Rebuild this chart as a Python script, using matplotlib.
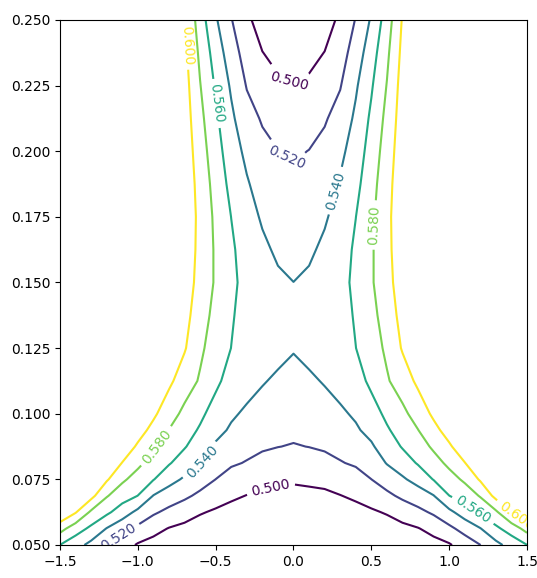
import numpy as np
import matplotlib
matplotlib.use("Agg")
import matplotlib.pyplot as plt

# contour levels
levels = [0.50, 0.52, 0.54, 0.56, 0.58, 0.60]

# right half of the (symmetric) grid, x >= 0
x_half = [0.0, 0.1, 0.2, 0.3, 0.4, 0.5, 0.6, 0.7, 0.8, 0.9, 1.0, 1.1, 1.2, 1.3, 1.4, 1.5]
y_rows = [0.05, 0.05625, 0.0625, 0.06875, 0.075, 0.08125, 0.0875, 0.09375, 0.1,
          0.1125, 0.125, 0.1375, 0.15, 0.1625, 0.175, 0.1875, 0.2, 0.2125,
          0.225, 0.2375, 0.25]

# field values (rows = y_rows, columns = x_half)
z_half = [
    [0.4700, 0.4705, 0.4720, 0.4735, 0.4760, 0.4790, 0.4820, 0.4860, 0.4895, 0.4935, 0.4980, 0.5089, 0.5198, 0.5343, 0.5475, 0.5598],
    [0.4781, 0.4788, 0.4801, 0.4822, 0.4850, 0.4882, 0.4915, 0.4954, 0.4991, 0.5061, 0.5156, 0.5271, 0.5392, 0.5558, 0.5693, 0.5870],
    [0.4862, 0.4870, 0.4883, 0.4908, 0.4940, 0.4975, 0.5016, 0.5083, 0.5150, 0.5229, 0.5352, 0.5498, 0.5641, 0.5766, 0.6015, 0.6200],
    [0.4943, 0.4953, 0.4964, 0.4995, 0.5032, 0.5084, 0.5158, 0.5238, 0.5307, 0.5393, 0.5598, 0.5689, 0.5815, 0.6062, 0.6250, 0.6370],
    [0.5025, 0.5037, 0.5051, 0.5089, 0.5131, 0.5199, 0.5289, 0.5374, 0.5467, 0.5609, 0.5722, 0.5833, 0.6024, 0.6220, 0.6380, 0.6480],
    [0.5105, 0.5122, 0.5141, 0.5190, 0.5222, 0.5289, 0.5410, 0.5501, 0.5618, 0.5723, 0.5845, 0.5994, 0.6160, 0.6340, 0.6480, 0.6570],
    [0.5190, 0.5203, 0.5225, 0.5249, 0.5295, 0.5377, 0.5493, 0.5615, 0.5707, 0.5833, 0.5970, 0.6132, 0.6270, 0.6430, 0.6560, 0.6640],
    [0.5236, 0.5245, 0.5267, 0.5308, 0.5378, 0.5451, 0.5577, 0.5685, 0.5796, 0.5938, 0.6086, 0.6250, 0.6370, 0.6510, 0.6630, 0.6700],
    [0.5267, 0.5287, 0.5363, 0.5373, 0.5424, 0.5518, 0.5642, 0.5755, 0.5880, 0.6038, 0.6190, 0.6350, 0.6460, 0.6580, 0.6680, 0.6750],
    [0.5341, 0.5385, 0.5407, 0.5462, 0.5520, 0.5644, 0.5780, 0.5894, 0.6042, 0.6200, 0.6360, 0.6500, 0.6600, 0.6700, 0.6780, 0.6840],
    [0.5412, 0.5428, 0.5448, 0.5490, 0.5598, 0.5710, 0.5835, 0.6018, 0.6140, 0.6320, 0.6500, 0.6620, 0.6720, 0.6800, 0.6870, 0.6920],
    [0.5459, 0.5470, 0.5495, 0.5515, 0.5622, 0.5742, 0.5889, 0.6068, 0.6250, 0.6420, 0.6600, 0.6720, 0.6810, 0.6890, 0.6950, 0.7000],
    [0.5401, 0.5425, 0.5471, 0.5545, 0.5638, 0.5777, 0.5935, 0.6100, 0.6280, 0.6450, 0.6630, 0.6760, 0.6860, 0.6940, 0.7000, 0.7050],
    [0.5347, 0.5376, 0.5430, 0.5508, 0.5632, 0.5775, 0.5946, 0.6126, 0.6320, 0.6480, 0.6660, 0.6790, 0.6890, 0.6970, 0.7030, 0.7080],
    [0.5293, 0.5318, 0.5382, 0.5461, 0.5598, 0.5760, 0.5947, 0.6143, 0.6340, 0.6500, 0.6680, 0.6810, 0.6910, 0.6990, 0.7050, 0.7100],
    [0.5239, 0.5261, 0.5317, 0.5419, 0.5544, 0.5727, 0.5927, 0.6136, 0.6340, 0.6500, 0.6680, 0.6810, 0.6920, 0.7000, 0.7060, 0.7110],
    [0.5176, 0.5204, 0.5252, 0.5355, 0.5491, 0.5684, 0.5893, 0.6120, 0.6320, 0.6500, 0.6680, 0.6810, 0.6920, 0.7000, 0.7060, 0.7110],
    [0.5090, 0.5119, 0.5182, 0.5272, 0.5437, 0.5636, 0.5854, 0.6100, 0.6300, 0.6480, 0.6660, 0.6800, 0.6910, 0.6990, 0.7050, 0.7100],
    [0.5003, 0.5032, 0.5093, 0.5189, 0.5374, 0.5578, 0.5808, 0.6080, 0.6280, 0.6460, 0.6640, 0.6780, 0.6890, 0.6970, 0.7030, 0.7080],
    [0.4910, 0.4945, 0.5004, 0.5114, 0.5292, 0.5511, 0.5759, 0.6050, 0.6250, 0.6430, 0.6610, 0.6750, 0.6860, 0.6940, 0.7000, 0.7050],
    [0.4820, 0.4857, 0.4914, 0.5039, 0.5210, 0.5424, 0.5697, 0.6017, 0.6220, 0.6400, 0.6580, 0.6720, 0.6830, 0.6910, 0.6970, 0.7020],
]

# mirror the half grid to cover x in [-1.5, 1.5]
xh = np.array(x_half)
zh = np.array(z_half)
x_full = np.concatenate([-xh[:0:-1], xh])
z_full = np.hstack([zh[:, :0:-1], zh])
y_full = np.array(y_rows)
X, Y = np.meshgrid(x_full, y_full)

fig = plt.figure(figsize=(5.37, 5.78), dpi=100)
ax = fig.add_axes([0.1117, 0.0571, 0.8697, 0.9083])

CS = ax.contour(X, Y, z_full, levels=levels, cmap="viridis")

label_pos = [
    (-0.678, 0.2405), (-0.483, 0.2183), (-0.033, 0.2265), (-0.033, 0.198),
    (0.256, 0.1852), (0.524, 0.1719), (-0.836, 0.0855), (-0.59, 0.0817),
    (-0.151, 0.0732), (-1.13, 0.0535), (1.145, 0.0627), (1.434, 0.0614),
]
ax.clabel(CS, inline=True, fontsize=10, fmt="%1.3f", manual=label_pos)

ax.set_xlim(-1.5, 1.5)
ax.set_ylim(0.05, 0.25)

fig.savefig("out.png", dpi=100)
